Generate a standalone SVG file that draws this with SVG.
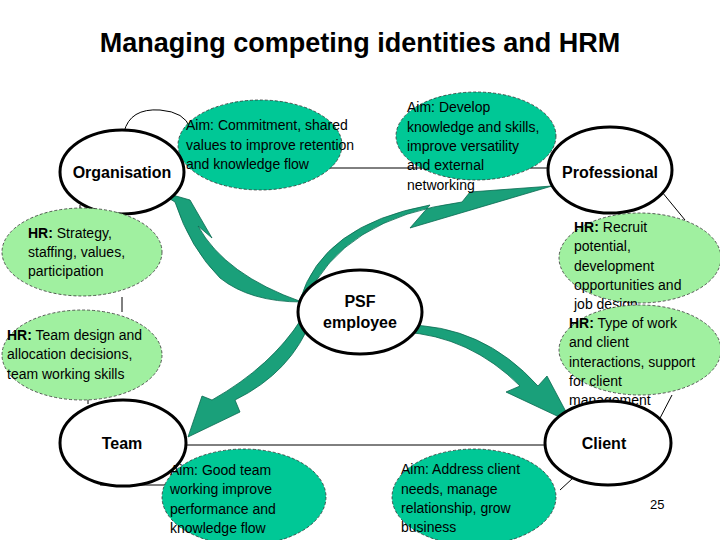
<svg xmlns="http://www.w3.org/2000/svg" width="720" height="540" viewBox="0 0 720 540">
<style>
.n{fill:#fff;stroke:#000;stroke-width:3}
.aim{fill:#00c896;stroke:#333;stroke-width:0.8;stroke-dasharray:3,2}
.hr{fill:#a0f0a0;stroke:#333;stroke-width:0.8;stroke-dasharray:3,2}
.l{fill:none;stroke:#000;stroke-width:1}
.ar{fill:#1aa07a;stroke:#0a6a50;stroke-width:0.8}
text{font-family:"Liberation Sans",Arial,sans-serif;font-size:14px;fill:#000}
.b{font-weight:bold;font-size:16px}
.k{font-weight:bold}
</style>
<rect width="720" height="540" fill="#fff"/>
<text x="360" y="52" text-anchor="middle" style="font-size:27px;font-weight:bold">Managing competing identities and HRM</text>
<g id="connectors">
<path class="l" d="M124,132 Q130,108 160,110 Q185,112 190,128"/>
<line class="l" x1="320" y1="168" x2="552" y2="168"/>
<line class="l" x1="80" y1="205" x2="80" y2="212"/>
<line class="l" x1="122" y1="297" x2="122" y2="312"/>
<line class="l" x1="88" y1="398" x2="88" y2="404"/>
<line class="l" x1="186" y1="445" x2="545" y2="445"/>
<line class="l" x1="662" y1="192" x2="685" y2="220"/>
<line class="l" x1="672" y1="395" x2="658" y2="422"/>
<line class="l" x1="560" y1="490" x2="573" y2="478"/>
<line class="l" x1="100" y1="485" x2="170" y2="485"/>
<path class="ar" d="M155,190 L190,200 L212,238 L198,226 Q225,275 302,302 Q250,302 220,278 Q190,248 175,202 Z"/>
<path class="ar" d="M312,318 Q292,372 235,400 L240,412 L188,437 L202,396 L212,400 Q272,366 302,318 Z"/>
<path class="ar" d="M300,300 Q322,225 430,205 L410,228 L552,186 L470,192 L462,202 Q342,218 306,300 Z"/>
<path class="ar" d="M403,332 Q470,336 520,386 L506,392 L572,423 L547,376 L538,386 Q482,324 403,325 Z"/>
</g>
<g id="aim-commitment"><ellipse class="aim" cx="260" cy="145" rx="82" ry="45"/>
<text x="186" y="130">Aim: Commitment, shared</text><text x="186" y="150">values to improve retention</text><text x="186" y="169">and knowledge flow</text></g>
<g id="aim-develop"><ellipse class="aim" cx="476" cy="136" rx="80" ry="44"/>
<text x="407" y="112">Aim: Develop</text><text x="407" y="132">knowledge and skills,</text><text x="407" y="151">improve versatility</text><text x="407" y="170">and external</text><text x="407" y="190">networking</text></g>
<g id="organisation"><ellipse class="n" cx="122" cy="172" rx="62" ry="42"/><text class="b" x="122" y="178" text-anchor="middle">Organisation</text></g>
<g id="professional"><ellipse class="n" cx="610" cy="170" rx="62" ry="43"/><text class="b" x="610" y="178" text-anchor="middle">Professional</text></g>
<g id="hr-strategy"><ellipse class="hr" cx="82" cy="252" rx="80" ry="44"/>
<text x="28" y="238"><tspan class="k">HR:</tspan> Strategy,</text><text x="28" y="257">staffing, values,</text><text x="28" y="276">participation</text></g>
<g id="hr-team"><ellipse class="hr" cx="82" cy="355" rx="80" ry="45"/>
<text x="7" y="340"><tspan class="k">HR:</tspan> Team design and</text><text x="7" y="359">allocation decisions,</text><text x="7" y="379">team working skills</text></g>
<g id="hr-recruit"><ellipse class="hr" cx="640" cy="258" rx="81" ry="45"/>
<text x="574" y="232"><tspan class="k">HR:</tspan> Recruit</text><text x="574" y="251">potential,</text><text x="574" y="271">development</text><text x="574" y="290">opportunities and</text><text x="574" y="309">job design</text></g>
<g id="hr-work"><ellipse class="hr" cx="640" cy="350" rx="81" ry="45"/>
<text x="569" y="328"><tspan class="k">HR:</tspan> Type of work</text><text x="569" y="347">and client</text><text x="569" y="367">interactions, support</text><text x="569" y="386">for client</text><text x="569" y="405">management</text></g>
<g id="psf"><ellipse class="n" cx="360" cy="312" rx="62" ry="42"/><text class="b" x="360" y="307" text-anchor="middle">PSF</text><text class="b" x="360" y="328" text-anchor="middle">employee</text></g>
<g id="team"><ellipse class="n" cx="123" cy="443" rx="63" ry="43"/><text class="b" x="122" y="449" text-anchor="middle">Team</text></g>
<g id="client"><ellipse class="n" cx="608" cy="443" rx="63" ry="42"/><text class="b" x="604" y="449" text-anchor="middle">Client</text></g>
<g id="aim-team"><ellipse class="aim" cx="244" cy="497" rx="82" ry="48"/>
<text x="170" y="475">Aim: Good team</text><text x="170" y="494">working improve</text><text x="170" y="514">performance and</text><text x="170" y="533">knowledge flow</text></g>
<g id="aim-client"><ellipse class="aim" cx="474" cy="497" rx="82" ry="48"/>
<text x="401" y="474">Aim: Address client</text><text x="401" y="494">needs, manage</text><text x="401" y="513">relationship, grow</text><text x="401" y="532">business</text></g>
<text x="650" y="509" style="font-size:13px">25</text>
</svg>
